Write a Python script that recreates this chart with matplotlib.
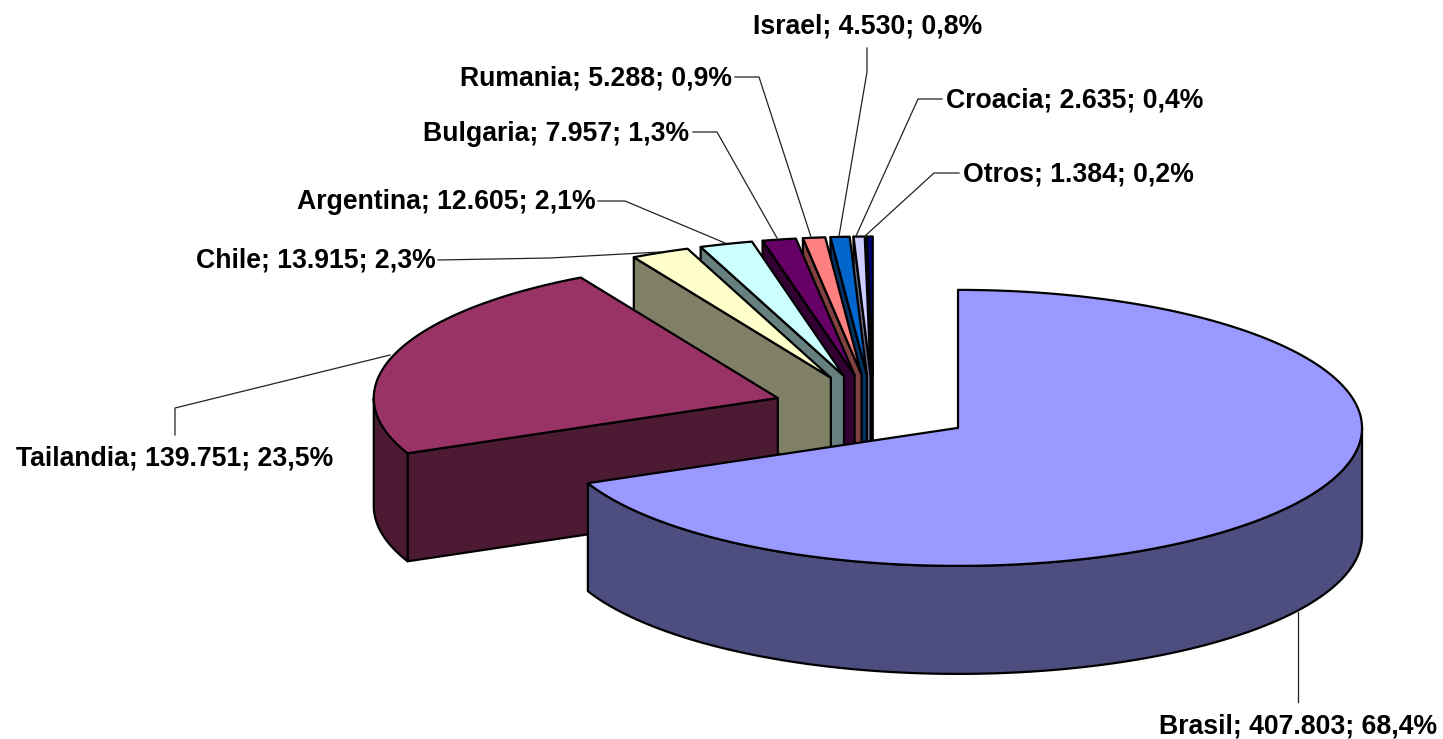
import numpy as np
import matplotlib
matplotlib.use("Agg")
import matplotlib.pyplot as plt
from matplotlib.patches import Polygon

# Data
paises = ["Brasil", "Tailandia", "Chile", "Argentina", "Bulgaria", "Rumania", "Israel", "Croacia", "Otros"]
valores = [407803, 139751, 13915, 12605, 7957, 5288, 4530, 2635, 1384]
porcentajes = ["68,4%", "23,5%", "2,3%", "2,1%", "1,3%", "0,9%", "0,8%", "0,4%", "0,2%"]
colores_top = ["#9999FF", "#993366", "#FFFFCC", "#CCFFFF", "#660066", "#FF8080", "#0066CC", "#CCCCFF", "#000080"]
colores_lado = ["#4D4D80", "#4D1A33", "#808066", "#668080", "#330033", "#804040", "#003366", "#666680", "#000040"]

# Label layout (left x, baseline y) and leader lines, in pixels
label_pos = [(1159, 733), (16, 465), (196, 267), (297, 209), (423, 141), (460, 85), (753, 34), (946, 107), (963, 181)]
leaders = [
    [(1298, 612), (1298, 702)],
    [(390, 355), (175, 408), (175, 435)],
    [(660, 252), (550, 258), (438, 260)],
    [(725, 243), (625, 201), (598, 201)],
    [(777, 238), (717, 132), (693, 132)],
    [(811, 237), (759, 77), (735, 77)],
    [(839, 236), (867, 72), (867, 48)],
    [(856, 236), (918, 99), (942, 99)],
    [(865, 236), (934, 173), (959, 173)],
]

# Pie geometry
cx, cy = 873.5, 409
rx, ry = 404, 138
depth = 108
explode = 0.25
lw = 1.6

fig = plt.figure(figsize=(14.43, 7.39), dpi=100)
ax = fig.add_axes([0, 0, 1, 1])
ax.set_xlim(0, 1443)
ax.set_ylim(739, 0)
ax.axis("off")


def punto(c, ang):
    # angle in degrees clockwise from 12 o'clock
    t = np.radians(ang)
    return c[0] + rx * np.sin(t), c[1] - ry * np.cos(t)


def arco(c, a1, a2):
    angs = np.linspace(a1, a2, max(int(abs(a2 - a1) * 2), 2))
    return [punto(c, a) for a in angs]


def cara(pts, color, z):
    ax.add_patch(Polygon(pts, closed=True, facecolor=color, edgecolor="black",
                         linewidth=lw, joinstyle="round", zorder=z))


def abajo(pts):
    return [(x, y + depth) for x, y in reversed(pts)]


total = sum(valores)
fracs = np.array(valores) / total * 360
ends = np.cumsum(fracs)
starts = ends - fracs

# back to front: small slices first, Brasil last
for z, i in enumerate(range(len(valores) - 1, -1, -1)):
    a1, a2 = starts[i], ends[i]
    mid = (a1 + a2) / 2
    t = np.radians(mid)
    c = (cx + explode * rx * np.sin(t), cy - explode * ry * np.cos(t))
    zz = z * 3 + 1
    if 180 < a1 < 360:
        linea = [c, punto(c, a1)]
        cara(linea + abajo(linea), colores_lado[i], zz)
    if 0 < a2 < 180:
        linea = [c, punto(c, a2)]
        cara(linea + abajo(linea), colores_lado[i], zz)
    w1, w2 = max(a1, 90), min(a2, 270)
    if w2 > w1:
        borde = arco(c, w1, w2)
        cara(borde + abajo(borde), colores_lado[i], zz + 1)
    cara([c] + arco(c, a1, a2), colores_top[i], zz + 2)

for pts in leaders:
    xs, ys = zip(*pts)
    ax.plot(xs, ys, color="#222222", linewidth=0.9, zorder=50)

for nombre, v, p, (x, y) in zip(paises, valores, porcentajes, label_pos):
    texto = f"{nombre}; {v:,}; {p}".replace(",", ".", 1)
    ax.text(x, y, texto, family="Liberation Sans", fontweight="bold", fontsize=19.2,
            ha="left", va="baseline", color="black", zorder=60)

fig.savefig("out.png", dpi=100)
